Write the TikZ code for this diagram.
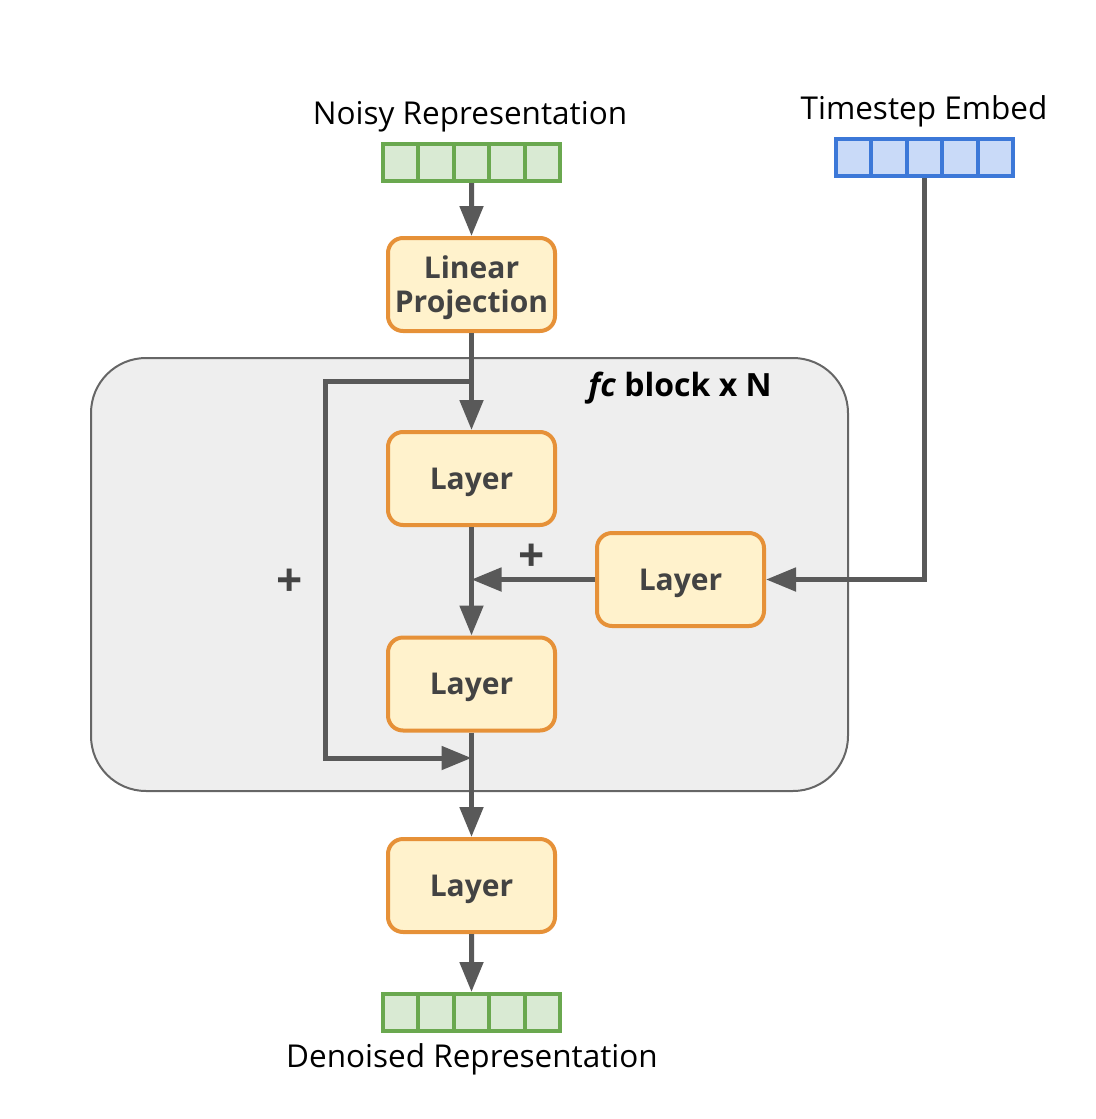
\documentclass[tikz,border=0pt]{standalone}
\usepackage{fontspec}
\setmainfont{Open Sans}
\usetikzlibrary{arrows.meta}

\definecolor{lineg}{HTML}{595959}
\definecolor{textg}{HTML}{434343}
\definecolor{boxfill}{HTML}{FFF2CC}
\definecolor{boxline}{HTML}{E69138}
\definecolor{greenline}{HTML}{6AA84F}
\definecolor{greenfill}{HTML}{D9EAD3}
\definecolor{blueline}{HTML}{3C78D8}
\definecolor{bluefill}{HTML}{C9DAF8}
\definecolor{blockfill}{HTML}{EEEEEE}
\definecolor{blockline}{HTML}{666666}

\tikzset{
  layerbox/.style={draw=boxline, fill=boxfill, line width=4pt, rounded corners=15pt,
    minimum width=167pt, minimum height=93pt, align=center, text=textg,
    font=\fontsize{30}{35}\selectfont\bfseries, inner sep=0pt, text depth=0pt},
  gcell/.style={draw=greenline, fill=greenfill, line width=4pt,
    minimum width=35.4pt, minimum height=37pt, inner sep=0pt},
  bcell/.style={draw=blueline, fill=bluefill, line width=4pt,
    minimum width=35.4pt, minimum height=37pt, inner sep=0pt},
  arr/.style={draw=lineg, line width=5pt, -{Triangle[length=30pt, width=23pt]}},
  lbl/.style={font=\fontsize{31.5}{36}\selectfont, text=black},
  plussign/.style={font=\fontsize{46}{50}\selectfont\bfseries, text=textg},
}

\begin{document}
\begin{tikzpicture}[x=1pt, y=-1pt]
  \useasboundingbox (0,0) rectangle (1095,1119);

  % fc block
  \node[draw=blockline, fill=blockfill, line width=2pt, rounded corners=55pt,
        minimum width=757pt, minimum height=433pt] (fc) at (469.5,574.5) {};
  \node[font=\fontsize{32}{36}\selectfont\bfseries] (fctitle) at (680,388) {\textit{fc} block x N};

  % input / output vectors
  \node[lbl] (noisylbl) at (470,117) {Noisy Representation};
  \foreach \i in {1,...,5}
    \node[gcell] (n\i) at (383+35.4*\i-17.7,162.5) {};
  \node[lbl] (timelbl) at (924,111) {Timestep Embed};
  \foreach \i in {1,...,5}
    \node[bcell] (t\i) at (836+35.4*\i-17.7,157.5) {};
  \foreach \i in {1,...,5}
    \node[gcell] (d\i) at (383+35.4*\i-17.7,1012.5) {};
  \node[lbl] (denlbl) at (472,1059) {Denoised Representation};

  % layers
  \node[layerbox] (proj) at (471.5,284.5) {Linear\\[-1pt]Projection};
  \node[layerbox] (l1) at (471.5,478.5) {Layer};
  \node[layerbox] (side) at (680.5,579.5) {Layer};
  \node[layerbox] (l2) at (471.5,684) {Layer};
  \node[layerbox] (l3) at (471.5,885.5) {Layer};

  \node[plussign] (plusa) at (532,558) {+};
  \node[plussign] (plusb) at (290,583) {+};

  % connections
  \coordinate (split) at (471.5,381);
  \coordinate (merge) at (471.5,758);
  \draw[arr] (n3.south) -- (proj.north);
  \draw[arr] (proj.south) -- (l1.north);
  \draw[arr] (l1.south) -- (l2.north);
  \draw[arr] (side.west) -- (side.west -| l1.south);
  \draw[arr] (t3.south) |- (side.east);
  \draw[arr] (split) -- (325,381) -- (325,758) -- (merge);
  \draw[arr] (l2.south) -- (l3.north);
  \draw[arr] (l3.south) -- (d3.north);
\end{tikzpicture}
\end{document}
